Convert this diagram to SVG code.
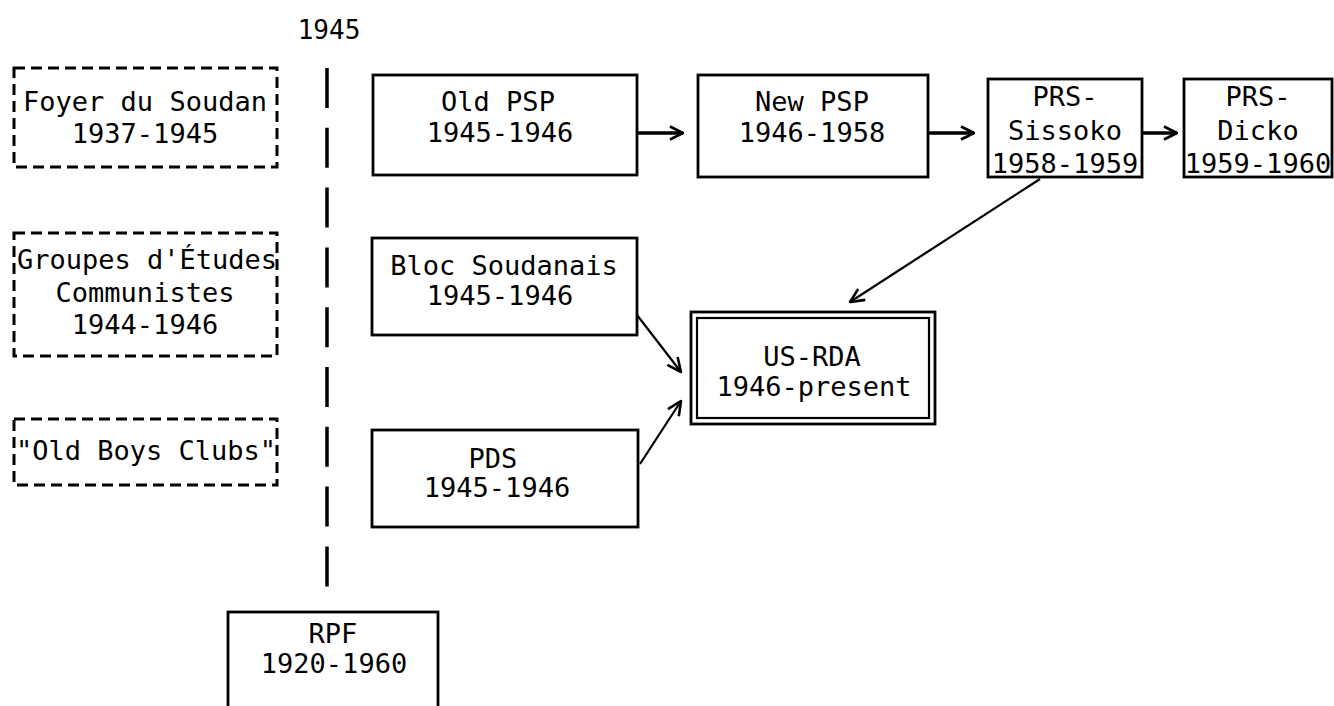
<svg xmlns="http://www.w3.org/2000/svg" width="1334" height="706" viewBox="0 0 1334 706">
<defs>
<style>
text{font-family:"DejaVu Sans Mono","Liberation Mono",monospace;font-size:27px;fill:#000;text-anchor:middle}
.box{fill:#fff;stroke:#000;stroke-width:2.8}
.dbox{fill:none;stroke:#000;stroke-width:3;stroke-dasharray:11 6}
.conn{fill:none;stroke:#000;stroke-width:2.2}
.thick{fill:none;stroke:#000;stroke-width:3.5}
</style>
<marker id="ah" viewBox="0 0 16 16" refX="15" refY="8" markerWidth="16" markerHeight="16" markerUnits="userSpaceOnUse" orient="auto">
<path d="M1,1.5 L15,8 L1,14.5" fill="none" stroke="#000" stroke-width="2.6"/>
</marker>
<marker id="ahs" viewBox="0 0 16 16" refX="15" refY="8" markerWidth="16" markerHeight="16" markerUnits="userSpaceOnUse" orient="auto">
<path d="M2,1.5 L15,8 L2,14.5" fill="none" stroke="#000" stroke-width="2.8"/>
</marker>
</defs>
<rect width="1334" height="706" fill="#fff"/>

<g id="timeline">
<text x="329" y="39" style="font-size:26px">1945</text>
<line x1="327" y1="68" x2="327" y2="588" stroke="#000" stroke-width="3.5" stroke-dasharray="40 19.8"/>
</g>

<g id="foyer">
<rect class="dbox" x="14" y="68" width="263" height="99"/>
<text x="145" y="111">Foyer du Soudan</text>
<text x="145" y="143">1937-1945</text>
</g>

<g id="groupes">
<rect class="dbox" x="14" y="233" width="263" height="123"/>
<text x="147" y="269">Groupes d'Études</text>
<text x="145" y="302">Communistes</text>
<text x="145" y="334">1944-1946</text>
</g>

<g id="oldboys">
<rect class="dbox" x="14" y="419" width="263" height="66"/>
<text x="146" y="460">"Old Boys Clubs"</text>
</g>

<g id="oldpsp">
<rect class="box" x="373" y="75" width="264" height="100"/>
<text x="498" y="111">Old PSP</text>
<text x="500" y="142">1945-1946</text>
</g>

<g id="newpsp">
<rect class="box" x="698" y="75" width="230" height="102"/>
<text x="812" y="111">New PSP</text>
<text x="812" y="142">1946-1958</text>
</g>

<g id="sissoko">
<rect class="box" x="988" y="79" width="154" height="98"/>
<text x="1065" y="106">PRS-</text>
<text x="1065" y="140">Sissoko</text>
<text x="1065" y="173">1958-1959</text>
</g>

<g id="dicko">
<rect class="box" x="1184" y="79" width="148" height="98"/>
<text x="1258" y="106">PRS-</text>
<text x="1258" y="140">Dicko</text>
<text x="1258" y="173">1959-1960</text>
</g>

<g id="bloc">
<rect class="box" x="372" y="238" width="265" height="97"/>
<text x="504" y="275">Bloc Soudanais</text>
<text x="500" y="305">1945-1946</text>
</g>

<g id="pds">
<rect class="box" x="372" y="430" width="266" height="97"/>
<text x="493" y="468">PDS</text>
<text x="497" y="497">1945-1946</text>
</g>

<g id="usrda">
<rect class="box" x="691" y="312" width="244" height="112"/>
<rect fill="none" stroke="#000" stroke-width="2.2" x="697" y="318" width="232" height="100"/>
<text x="812" y="366">US-RDA</text>
<text x="814" y="396">1946-present</text>
</g>

<g id="rpf">
<rect class="box" x="228" y="612" width="210" height="110"/>
<text x="333" y="643">RPF</text>
<text x="334" y="673">1920-1960</text>
</g>

<g id="connectors">
<line class="thick" x1="638" y1="133" x2="683" y2="133" marker-end="url(#ahs)"/>
<line class="thick" x1="929" y1="133" x2="974" y2="133" marker-end="url(#ahs)"/>
<line class="thick" x1="1143" y1="133" x2="1177" y2="133" marker-end="url(#ahs)"/>
<line class="conn" x1="1040" y1="179" x2="850" y2="302" marker-end="url(#ah)"/>
<line class="conn" x1="637" y1="315" x2="681" y2="372" marker-end="url(#ah)"/>
<line class="conn" x1="640" y1="464" x2="681" y2="401" marker-end="url(#ah)"/>
</g>
</svg>
